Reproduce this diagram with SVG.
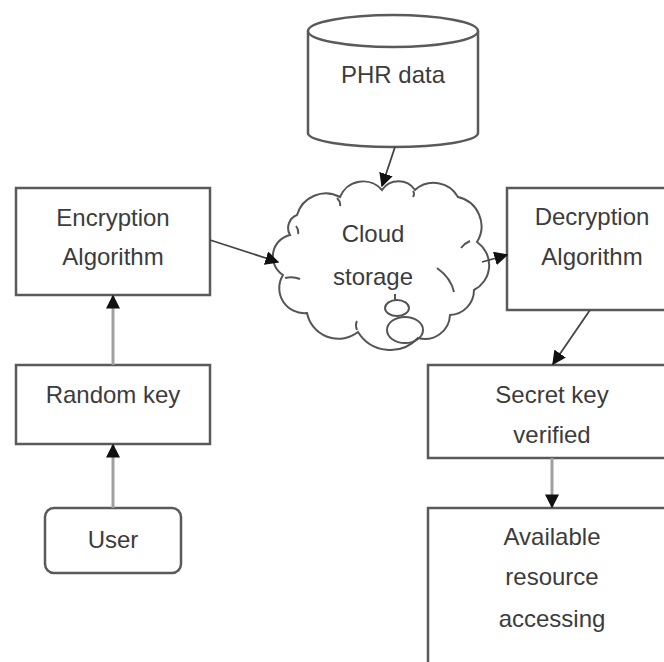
<svg xmlns="http://www.w3.org/2000/svg" width="664" height="662" viewBox="0 0 664 662">
<style>
.box{fill:#fff;stroke:#5a5a5a;stroke-width:2.5}
.t{font-family:"Liberation Sans",Arial,sans-serif;font-size:24px;fill:#3c3c3c;text-anchor:middle}
.c{fill:none;stroke:#444;stroke-width:1.8}
.cl{fill:none;stroke:#555;stroke-width:2}
.v{fill:none;stroke:#a0a0a0;stroke-width:3}
</style>
<defs>
<marker id="ah" viewBox="0 0 10 10" refX="9" refY="5" markerWidth="14" markerHeight="14" markerUnits="userSpaceOnUse" orient="auto">
<path d="M0,0 L10,5 L0,10 z" fill="#111"/>
</marker>
</defs>
<rect width="664" height="662" fill="#fff"/>
<g id="phr">
<path class="box" d="M308,31 L308,133 A85,14 0 0 0 478,133 L478,31"/>
<ellipse class="box" cx="393" cy="31" rx="85" ry="16"/>
<text class="t" x="393" y="83">PHR data</text>
</g>
<g id="cloud">
<path class="cl" d="M297,215 A30,30 0 0 1 340,197 A25,25 0 0 1 382,190 A20,20 0 0 1 415,190 A28,28 0 0 1 458,197 A30,30 0 0 1 477,242 A28,28 0 0 1 474,290 A25,25 0 0 1 450,315 A25,25 0 0 1 418,338 A38,38 0 0 1 358,332 A32,32 0 0 1 307,313 A25,25 0 0 1 283,275 A22,22 0 0 1 290,235 A14,14 0 0 1 297,215 Z" fill="#fff"/>
<path class="cl" d="M337,198 q4,4 3,8 M413,191 q2,3 0,6 M470,241 q-5,2 -9,7 M437,268 q14,10 17,24 M285,278 q8,-2 15,1 M296,226 q3,4 2,8 M357,330 q-2,-5 0,-9"/>
<ellipse class="cl" cx="397" cy="308" rx="12" ry="8"/>
<ellipse class="cl" cx="405" cy="330" rx="18" ry="13" fill="#fff"/>
<path class="cl" d="M395,300 L395,294"/>
<text class="t" x="373" y="242">Cloud</text>
<text class="t" x="373" y="285">storage</text>
</g>
<g id="enc">
<rect class="box" x="16" y="188" width="194" height="107"/>
<text class="t" x="113" y="226">Encryption</text>
<text class="t" x="113" y="265">Algorithm</text>
</g>
<g id="dec">
<rect class="box" x="507" y="188" width="170" height="122"/>
<text class="t" x="592" y="225">Decryption</text>
<text class="t" x="592" y="265">Algorithm</text>
</g>
<g id="rand">
<rect class="box" x="16" y="365" width="194" height="79"/>
<text class="t" x="113" y="403">Random key</text>
</g>
<g id="user">
<rect class="box" x="45" y="508" width="136" height="65" rx="9"/>
<text class="t" x="113" y="548">User</text>
</g>
<g id="secret">
<rect class="box" x="428" y="365" width="250" height="93"/>
<text class="t" x="552" y="403">Secret key</text>
<text class="t" x="552" y="443">verified</text>
</g>
<g id="avail">
<rect class="box" x="428" y="508" width="250" height="170"/>
<text class="t" x="552" y="545">Available</text>
<text class="t" x="552" y="585">resource</text>
<text class="t" x="552" y="627">accessing</text>
</g>
<g id="connectors">
<line class="c" x1="395" y1="147" x2="382" y2="186" marker-end="url(#ah)"/>
<line class="c" x1="210" y1="240" x2="278" y2="262" marker-end="url(#ah)"/>
<line class="c" x1="482" y1="262" x2="507" y2="255" marker-end="url(#ah)"/>
<line class="c" x1="590" y1="310" x2="553" y2="364" marker-end="url(#ah)"/>
<line class="v" x1="552" y1="458" x2="552" y2="507" marker-end="url(#ah)"/>
<line class="v" x1="113" y1="365" x2="113" y2="296" marker-end="url(#ah)"/>
<line class="v" x1="113" y1="508" x2="113" y2="445" marker-end="url(#ah)"/>
</g>
</svg>
